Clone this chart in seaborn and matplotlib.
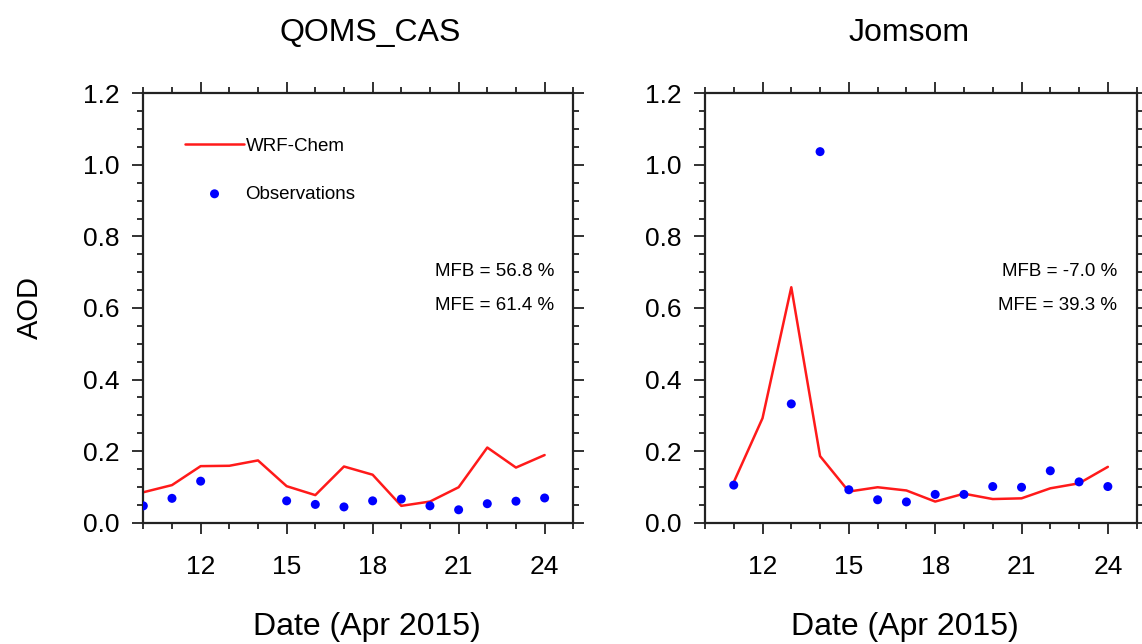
import numpy as np
import pandas as pd
import matplotlib
matplotlib.use("Agg")
import matplotlib.pyplot as plt
import seaborn as sns
from matplotlib.ticker import MultipleLocator, FormatStrFormatter

# ---- data ----
days_model_q = [10, 11, 12, 13, 14, 15, 16, 17, 18, 19, 20, 21, 22, 23, 24]
wrf_q = [0.085, 0.105, 0.158, 0.159, 0.174, 0.102, 0.077, 0.157, 0.134, 0.047, 0.059, 0.099, 0.210, 0.154, 0.189]
days_obs_q = [10, 11, 12, 15, 16, 17, 18, 19, 20, 21, 22, 23, 24]
obs_q = [0.047, 0.068, 0.116, 0.061, 0.051, 0.044, 0.061, 0.066, 0.047, 0.036, 0.053, 0.060, 0.069]

days_model_j = [11, 12, 13, 14, 15, 16, 17, 18, 19, 20, 21, 22, 23, 24]
wrf_j = [0.113, 0.292, 0.658, 0.186, 0.087, 0.099, 0.090, 0.059, 0.081, 0.066, 0.068, 0.096, 0.110, 0.156]
days_obs_j = [11, 13, 14, 15, 16, 17, 18, 19, 20, 21, 22, 23, 24]
obs_j = [0.105, 0.332, 1.037, 0.092, 0.064, 0.058, 0.079, 0.079, 0.101, 0.099, 0.145, 0.114, 0.101]

titles = ["QOMS_CAS", "Jomsom"]
stats = [("MFB = 56.8 %", "MFE = 61.4 %"), ("MFB = -7.0 %", "MFE = 39.3 %")]
xticks = [12, 15, 18, 21, 24]
yticks = [0.0, 0.2, 0.4, 0.6, 0.8, 1.0, 1.2]

sns.set_style("ticks")
plt.rcParams['font.family'] = ['Liberation Sans', 'DejaVu Sans']
plt.rcParams['text.color'] = 'black'
plt.rcParams['axes.labelcolor'] = 'black'
plt.rcParams['xtick.color'] = 'black'
plt.rcParams['ytick.color'] = 'black'

fig = plt.figure(figsize=(11.42, 6.44), dpi=100)
axes = [fig.add_axes([0.1255, 0.1884, 0.3765, 0.6667]),
        fig.add_axes([0.6173, 0.1884, 0.378, 0.6667])]

panels = [(days_model_q, wrf_q, days_obs_q, obs_q), (days_model_j, wrf_j, days_obs_j, obs_j)]
title_x = [0.528, 0.472]
xlabel_x = [0.519, 0.463]

for i, (ax, (dm, wm, do, ob)) in enumerate(zip(axes, panels)):
    sns.lineplot(x=dm, y=wm, ax=ax, color="#ff1a1a", linewidth=1.8, label="WRF-Chem")
    sns.scatterplot(x=do, y=ob, ax=ax, color="#0000ff", s=42, edgecolor="none",
                    label="Observations", zorder=3)
    ax.set_xlim(10, 25)
    ax.set_ylim(0, 1.2)
    ax.set_xticks(xticks)
    ax.set_yticks(yticks)
    ax.xaxis.set_minor_locator(MultipleLocator(1))
    ax.yaxis.set_minor_locator(MultipleLocator(0.05))
    ax.yaxis.set_major_formatter(FormatStrFormatter("%.1f"))
    ax.tick_params(which="both", direction="out", top=True, right=True, color="#222222", width=1.3)
    ax.tick_params(which="major", length=8, labelsize=19, pad=9)
    ax.tick_params(which="minor", length=4)
    ax.tick_params(axis="x", which="major", pad=15)
    for sp in ax.spines.values():
        sp.set_visible(True)
        sp.set_linewidth(1.6)
        sp.set_color("#222222")
    t = ax.set_title(titles[i], fontsize=23, pad=38)
    t.set_x(title_x[i])
    ax.set_xlabel("Date (Apr 2015)", fontsize=23)
    ax.xaxis.set_label_coords(xlabel_x[i], -0.207)
    ax.text(0.955, 0.585, stats[i][0], transform=ax.transAxes, ha="right", va="center", fontsize=13.5)
    ax.text(0.955, 0.505, stats[i][1], transform=ax.transAxes, ha="right", va="center", fontsize=13.5)
    if i == 0:
        ax.set_ylabel("AOD", fontsize=21, labelpad=28)
        leg = ax.legend(loc="upper left", bbox_to_anchor=(0.098, 0.897), frameon=False,
                        fontsize=13.5, handlelength=3.1, handletextpad=0.1, labelspacing=1.65,
                        borderpad=0, borderaxespad=0)
    else:
        ax.set_ylabel("")
        if ax.get_legend():
            ax.get_legend().remove()

fig.savefig("out.png", dpi=100, facecolor="white")
